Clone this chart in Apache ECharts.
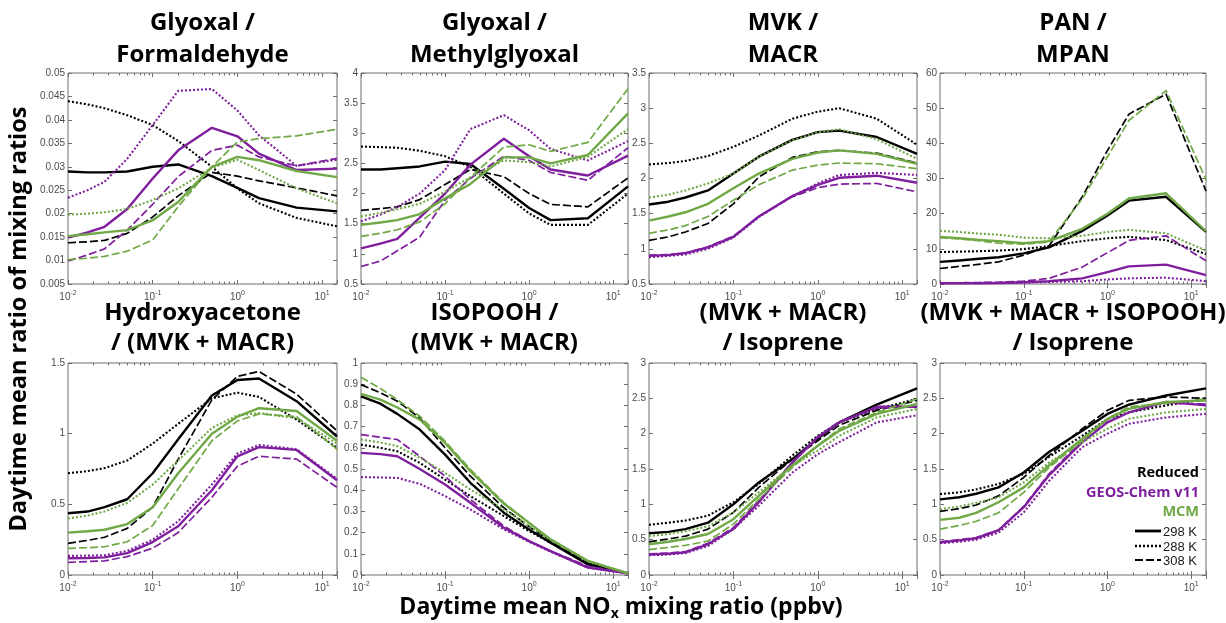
<!DOCTYPE html>
<html>
<head>
<meta charset="utf-8">
<script src="https://cdn.jsdelivr.net/npm/echarts@6/dist/echarts.min.js"></script>
<style>
  html, body { margin: 0; padding: 0; background: #ffffff; }
  #chart { width: 1226px; height: 623px; }
</style>
</head>
<body>
<div id="chart"></div>
<script>
// Daytime mean NOx mixing ratio (ppbv) at which each ratio is sampled
const NOX = [0.01, 0.017, 0.027, 0.05, 0.1, 0.2, 0.5, 1, 1.8, 5, 15];

const MECHANISMS = ['Reduced', 'GEOS-Chem v11', 'MCM'];
const TEMPERATURES = ['298 K', '288 K', '308 K'];

const PANEL_TITLES = [
  ['Glyoxal /', 'Formaldehyde'],
  ['Glyoxal /', 'Methylglyoxal'],
  ['MVK /', 'MACR'],
  ['PAN /', 'MPAN'],
  ['Hydroxyacetone', '/ (MVK + MACR)'],
  ['ISOPOOH /', '(MVK + MACR)'],
  ['(MVK + MACR)', '/ Isoprene'],
  ['(MVK + MACR + ISOPOOH)', '/ Isoprene']
];

// y-axis ranges and tick steps per panel
const Y_MIN = [0.005, 0.5, 0.5, 0, 0, 0, 0, 0];
const Y_MAX = [0.05, 4, 3.5, 60, 1.5, 1, 3, 3];
const Y_STEP = [0.005, 0.5, 0.5, 10, 0.5, 0.1, 0.5, 0.5];

// Each mechanism array holds [298 K, 288 K, 308 K] series over NOX
const glyFormReduced = [
  [0.029, 0.0288, 0.0288, 0.029, 0.030, 0.0305, 0.028, 0.0255, 0.0233, 0.0213, 0.0205],
  [0.044, 0.0433, 0.0425, 0.041, 0.0389, 0.0355, 0.030, 0.0254, 0.0222, 0.0191, 0.0173],
  [0.0138, 0.0140, 0.0143, 0.0158, 0.0193, 0.0238, 0.0288, 0.028, 0.027, 0.0255, 0.0238]
];
const glyFormGeos = [
  [0.0149, 0.016, 0.0172, 0.021, 0.0275, 0.0335, 0.0383, 0.0365, 0.0328, 0.0293, 0.0296],
  [0.0234, 0.025, 0.0268, 0.0317, 0.0389, 0.0462, 0.0466, 0.042, 0.0367, 0.0302, 0.0315],
  [0.0099, 0.0112, 0.0125, 0.0165, 0.022, 0.0279, 0.0335, 0.0346, 0.0321, 0.0302, 0.0318]
];
const glyFormMcm = [
  [0.0152, 0.0156, 0.016, 0.0165, 0.0186, 0.0225, 0.030, 0.0321, 0.0314, 0.0291, 0.0278],
  [0.0198, 0.020, 0.0203, 0.021, 0.0229, 0.0254, 0.0298, 0.0315, 0.0293, 0.0254, 0.0222],
  [0.0102, 0.0105, 0.0109, 0.012, 0.0144, 0.0215, 0.030, 0.0353, 0.036, 0.0366, 0.038]
];

const glyMglyReduced = [
  [2.40, 2.40, 2.42, 2.45, 2.53, 2.49, 2.08, 1.76, 1.56, 1.59, 2.12],
  [2.78, 2.77, 2.76, 2.71, 2.62, 2.44, 2.0, 1.67, 1.48, 1.48, 2.0],
  [1.72, 1.75, 1.78, 1.9, 2.15, 2.40, 2.28, 2.0, 1.82, 1.78, 2.26]
];
const glyMglyGeos = [
  [1.09, 1.17, 1.25, 1.60, 2.0, 2.48, 2.91, 2.62, 2.40, 2.30, 2.63],
  [1.54, 1.65, 1.78, 2.0, 2.39, 3.07, 3.3, 3.05, 2.74, 2.55, 2.87],
  [0.79, 0.88, 1.05, 1.28, 1.89, 2.25, 2.62, 2.55, 2.35, 2.22, 2.76]
];
const glyMglyMcm = [
  [1.48, 1.52, 1.56, 1.66, 1.92, 2.16, 2.6, 2.6, 2.5, 2.64, 3.33],
  [1.62, 1.68, 1.74, 1.83, 2.03, 2.27, 2.55, 2.52, 2.45, 2.61, 3.07],
  [1.29, 1.34, 1.40, 1.53, 1.83, 2.27, 2.77, 2.81, 2.70, 2.85, 3.74]
];

const mvkMacrReduced = [
  [1.63, 1.67, 1.73, 1.83, 2.07, 2.31, 2.55, 2.66, 2.68, 2.59, 2.35],
  [2.20, 2.22, 2.25, 2.32, 2.45, 2.61, 2.85, 2.95, 3.0, 2.85, 2.48],
  [1.12, 1.17, 1.24, 1.36, 1.64, 2.02, 2.30, 2.38, 2.40, 2.36, 2.22]
];
const mvkMacrGeos = [
  [0.90, 0.91, 0.94, 1.02, 1.17, 1.46, 1.75, 1.91, 2.01, 2.04, 1.94],
  [0.88, 0.90, 0.92, 1.00, 1.16, 1.45, 1.75, 1.93, 2.05, 2.08, 2.05],
  [0.91, 0.92, 0.94, 1.03, 1.18, 1.46, 1.74, 1.87, 1.92, 1.93, 1.81]
];
const mvkMacrMcm = [
  [1.40, 1.46, 1.52, 1.64, 1.86, 2.07, 2.28, 2.37, 2.40, 2.35, 2.21],
  [1.73, 1.77, 1.83, 1.93, 2.07, 2.31, 2.54, 2.66, 2.70, 2.56, 2.28],
  [1.22, 1.27, 1.33, 1.46, 1.69, 1.91, 2.12, 2.19, 2.22, 2.21, 2.14]
];

const panMpanReduced = [
  [6.3, 6.7, 7.1, 7.6, 8.7, 10.4, 15.1, 19.5, 23.7, 24.8, 14.8],
  [9.1, 9.2, 9.3, 9.5, 9.9, 10.8, 12.2, 13.0, 13.4, 12.5, 8.5],
  [4.4, 5.0, 5.5, 6.3, 8.2, 10.8, 24.8, 38, 48.3, 54, 26.4]
];
const panMpanGeos = [
  [0.2, 0.2, 0.2, 0.3, 0.5, 0.8, 1.6, 3.4, 5.0, 5.5, 2.5],
  [0.3, 0.3, 0.3, 0.3, 0.4, 0.6, 0.8, 1.3, 1.6, 1.8, 0.8],
  [0.3, 0.35, 0.4, 0.5, 0.8, 1.6, 4.8, 8.9, 12.4, 13.7, 6.6]
];
const panMpanMcm = [
  [13.4, 13.0, 12.6, 12.2, 11.6, 12.2, 15.7, 20, 24.3, 25.8, 15.0],
  [15.1, 14.8, 14.4, 14.0, 13.2, 13.0, 13.7, 14.8, 15.4, 14.4, 9.5],
  [13.2, 12.8, 12.4, 11.6, 11.3, 12.0, 24.2, 36.2, 46.5, 55, 29.7]
];

const hacMvkReduced = [
  [0.437, 0.449, 0.48, 0.536, 0.72, 0.96, 1.27, 1.38, 1.39, 1.23, 0.98],
  [0.72, 0.735, 0.756, 0.81, 0.93, 1.07, 1.25, 1.29, 1.26, 1.10, 0.90],
  [0.224, 0.245, 0.267, 0.33, 0.48, 0.82, 1.24, 1.405, 1.44, 1.28, 1.02]
];
const hacMvkGeos = [
  [0.118, 0.12, 0.125, 0.155, 0.233, 0.345, 0.60, 0.84, 0.905, 0.885, 0.67],
  [0.135, 0.137, 0.14, 0.17, 0.25, 0.38, 0.64, 0.86, 0.92, 0.89, 0.68],
  [0.09, 0.095, 0.10, 0.13, 0.19, 0.30, 0.55, 0.77, 0.84, 0.82, 0.62]
];
const hacMvkMcm = [
  [0.30, 0.31, 0.32, 0.36, 0.48, 0.72, 1.0, 1.12, 1.18, 1.16, 0.95],
  [0.40, 0.42, 0.45, 0.51, 0.64, 0.81, 1.04, 1.13, 1.145, 1.11, 0.93],
  [0.189, 0.193, 0.20, 0.235, 0.35, 0.61, 0.95, 1.09, 1.14, 1.12, 0.89]
];

const isoMvkReduced = [
  [0.843, 0.808, 0.76, 0.686, 0.568, 0.435, 0.294, 0.215, 0.152, 0.05, 0.008],
  [0.615, 0.60, 0.584, 0.529, 0.45, 0.372, 0.278, 0.207, 0.152, 0.058, 0.008],
  [0.898, 0.86, 0.82, 0.741, 0.60, 0.466, 0.317, 0.228, 0.16, 0.055, 0.008]
];
const isoMvkGeos = [
  [0.576, 0.57, 0.56, 0.50, 0.427, 0.341, 0.223, 0.16, 0.113, 0.035, 0.008],
  [0.462, 0.46, 0.458, 0.43, 0.372, 0.309, 0.215, 0.157, 0.11, 0.035, 0.008],
  [0.662, 0.65, 0.639, 0.56, 0.466, 0.356, 0.231, 0.16, 0.113, 0.042, 0.008]
];
const isoMvkMcm = [
  [0.854, 0.827, 0.79, 0.733, 0.623, 0.49, 0.337, 0.246, 0.168, 0.066, 0.008],
  [0.639, 0.625, 0.608, 0.553, 0.482, 0.403, 0.309, 0.231, 0.165, 0.066, 0.008],
  [0.933, 0.88, 0.827, 0.749, 0.631, 0.498, 0.341, 0.246, 0.168, 0.066, 0.008]
];

const mvkIspReduced = [
  [0.59, 0.61, 0.65, 0.74, 1.0, 1.31, 1.64, 1.93, 2.16, 2.41, 2.64],
  [0.71, 0.74, 0.77, 0.84, 1.03, 1.29, 1.69, 1.97, 2.16, 2.35, 2.49],
  [0.47, 0.51, 0.55, 0.65, 0.885, 1.24, 1.64, 1.90, 2.12, 2.33, 2.47]
];
const mvkIspGeos = [
  [0.29, 0.30, 0.32, 0.435, 0.65, 1.03, 1.59, 1.95, 2.16, 2.38, 2.38],
  [0.28, 0.29, 0.31, 0.41, 0.65, 0.98, 1.45, 1.71, 1.88, 2.16, 2.26],
  [0.30, 0.31, 0.33, 0.45, 0.67, 1.05, 1.60, 1.96, 2.17, 2.36, 2.38]
];
const mvkIspMcm = [
  [0.435, 0.47, 0.51, 0.58, 0.79, 1.12, 1.55, 1.83, 2.04, 2.28, 2.42],
  [0.55, 0.58, 0.62, 0.69, 0.885, 1.17, 1.55, 1.76, 1.97, 2.23, 2.35],
  [0.36, 0.39, 0.42, 0.48, 0.72, 1.07, 1.52, 1.83, 2.07, 2.30, 2.49]
];

const mvkIsoohIspReduced = [
  [1.07, 1.10, 1.15, 1.24, 1.45, 1.74, 2.04, 2.28, 2.41, 2.54, 2.64],
  [1.145, 1.17, 1.21, 1.29, 1.43, 1.67, 1.97, 2.21, 2.30, 2.40, 2.49],
  [0.90, 0.94, 0.99, 1.12, 1.38, 1.69, 2.07, 2.33, 2.47, 2.52, 2.50]
];
const mvkIsoohIspGeos = [
  [0.46, 0.49, 0.52, 0.63, 0.96, 1.41, 1.88, 2.16, 2.30, 2.45, 2.40],
  [0.45, 0.47, 0.50, 0.60, 0.885, 1.33, 1.81, 2.0, 2.14, 2.23, 2.28],
  [0.47, 0.50, 0.53, 0.64, 0.97, 1.43, 1.90, 2.20, 2.36, 2.43, 2.42]
];
const mvkIsoohIspMcm = [
  [0.78, 0.81, 0.88, 1.03, 1.24, 1.55, 1.93, 2.21, 2.35, 2.45, 2.47],
  [0.93, 0.97, 1.02, 1.10, 1.31, 1.59, 1.88, 2.07, 2.21, 2.30, 2.35],
  [0.65, 0.70, 0.76, 0.88, 1.17, 1.52, 1.90, 2.21, 2.38, 2.43, 2.49]
];

const PANEL_DATA = [
  [glyFormReduced, glyFormGeos, glyFormMcm],
  [glyMglyReduced, glyMglyGeos, glyMglyMcm],
  [mvkMacrReduced, mvkMacrGeos, mvkMacrMcm],
  [panMpanReduced, panMpanGeos, panMpanMcm],
  [hacMvkReduced, hacMvkGeos, hacMvkMcm],
  [isoMvkReduced, isoMvkGeos, isoMvkMcm],
  [mvkIspReduced, mvkIspGeos, mvkIspMcm],
  [mvkIsoohIspReduced, mvkIsoohIspGeos, mvkIsoohIspMcm]
];

// ---- styling and layout ----
const MECH_COLORS = ['#000000', '#7f1f9d', '#6fa845'];
const TEMP_WIDTHS = [2.4, 2.1, 1.7];
const TEMP_DASH = ['solid', [2, 2], [8, 3]];
const AXIS_COLOR = '#6e6e6e';
const TICK_TEXT = '#4a4a4a';
const TITLE_FONT = '"Open Sans", "Noto Sans", sans-serif';
const TICK_FONT = '"Liberation Sans", Arial, sans-serif';

const COL_LEFT = [68, 361, 649, 940];
const COL_WIDTH = [269, 267, 268, 266];
const ROW_TOP = [73, 363];
const ROW_HEIGHT = [211, 212];
const X_MIN = 0.01, X_MAX = 15;

const minorTicks = [];
[0.01, 0.1, 1].forEach(d => { for (let k = 2; k <= 9; k++) minorTicks.push(+(d * k).toPrecision(3)); });

function logLabel(v) {
  const e = Math.round(Math.log10(v));
  if (Math.abs(v - Math.pow(10, e)) / v > 1e-6) return '';
  return '{b|10}{s|' + e + '}';
}
function yLabel(v) { return String(+v.toPrecision(6)); }

const grids = [], xAxes = [], yAxes = [], series = [], graphics = [];

for (let i = 0; i < 8; i++) {
  const row = Math.floor(i / 4), col = i % 4;
  grids.push({
    left: COL_LEFT[col], top: ROW_TOP[row], width: COL_WIDTH[col], height: ROW_HEIGHT[row],
    show: true, borderColor: AXIS_COLOR, borderWidth: 1, backgroundColor: '#ffffff'
  });
  const xCommon = {
    type: 'log', logBase: 10, min: X_MIN, max: X_MAX, gridIndex: i,
    axisLine: { show: false }, splitLine: { show: false },
    axisTick: { inside: true, length: 4, lineStyle: { color: AXIS_COLOR } }
  };
  xAxes.push(Object.assign({}, xCommon, {
    position: 'bottom',
    axisLabel: {
      formatter: logLabel, margin: 6, showMinLabel: true, showMaxLabel: true,
      rich: {
        b: { fontSize: 10, color: TICK_TEXT, fontFamily: TICK_FONT },
        s: { fontSize: 7, color: TICK_TEXT, fontFamily: TICK_FONT, padding: [0, 0, 7, 0] }
      }
    }
  }));
  xAxes.push(Object.assign({}, xCommon, { position: 'top', axisLabel: { show: false } }));
  const yCommon = {
    type: 'value', min: Y_MIN[i], max: Y_MAX[i], interval: Y_STEP[i], gridIndex: i,
    axisLine: { show: false }, splitLine: { show: false },
    axisTick: { inside: true, length: 4, lineStyle: { color: AXIS_COLOR } }
  };
  yAxes.push(Object.assign({}, yCommon, {
    position: 'left',
    axisLabel: { formatter: yLabel, fontSize: 10, color: TICK_TEXT, fontFamily: TICK_FONT, margin: 3 }
  }));
  yAxes.push(Object.assign({}, yCommon, { position: 'right', axisLabel: { show: false } }));

  // log minor ticks on bottom and top edges
  series.push({
    type: 'custom', xAxisIndex: 2 * i, yAxisIndex: 2 * i, silent: true, z: 1,
    data: minorTicks.map(v => [v, Y_MIN[i]]),
    renderItem: (params, api) => {
      const cs = params.coordSys;
      const x = Math.round(api.coord([api.value(0), api.value(1)])[0]) + 0.5;
      const b = cs.y + cs.height, t = cs.y;
      return {
        type: 'group', children: [
          { type: 'line', shape: { x1: x, y1: b, x2: x, y2: b - 2.5 }, style: { stroke: AXIS_COLOR, lineWidth: 1 } },
          { type: 'line', shape: { x1: x, y1: t, x2: x, y2: t + 2.5 }, style: { stroke: AXIS_COLOR, lineWidth: 1 } }
        ]
      };
    }
  });

  PANEL_DATA[i].forEach((mech, m) => {
    mech.forEach((vals, t) => {
      series.push({
        name: MECHANISMS[m] + ' ' + TEMPERATURES[t],
        type: 'line', xAxisIndex: 2 * i, yAxisIndex: 2 * i,
        data: NOX.map((x, k) => [x, vals[k]]),
        symbol: 'none', silent: true, animation: false, z: 3,
        lineStyle: { color: MECH_COLORS[m], width: TEMP_WIDTHS[t], type: TEMP_DASH[t], cap: 'butt', join: 'round' }
      });
    });
  });

  // panel title (two lines)
  const cx = COL_LEFT[col] + COL_WIDTH[col] / 2;
  const ty = row === 0 ? [23, 55] : [313, 343];
  PANEL_TITLES[i].forEach((line, k) => {
    graphics.push({
      type: 'text', x: cx, y: ty[k], silent: true,
      style: { text: line, fontSize: 24, fontWeight: 'bold', fontFamily: TITLE_FONT, fill: '#000', align: 'center', verticalAlign: 'middle' }
    });
  });
}

// shared axis titles
graphics.push({
  type: 'text', x: 19, y: 319, rotation: Math.PI / 2, silent: true,
  style: {
    text: 'Daytime mean ratio of mixing ratios', fontSize: 23.5, fontWeight: 'bold',
    fontFamily: TITLE_FONT, fill: '#000', align: 'center', verticalAlign: 'middle'
  }
});
graphics.push({
  type: 'text', x: 621, y: 607, silent: true,
  style: {
    text: '{t|Daytime mean NO}{s|x}{t| mixing ratio (ppbv)}',
    align: 'center', verticalAlign: 'middle',
    rich: {
      t: { fontSize: 23, fontWeight: 'bold', fontFamily: TITLE_FONT, fill: '#000' },
      s: { fontSize: 14, fontWeight: 'bold', fontFamily: TITLE_FONT, fill: '#000', padding: [14, 0, 0, 0] }
    }
  }
});

// legend inside the last panel
const LEGEND_RIGHT = 1199;
const legendMechY = [473, 493, 512];
MECHANISMS.forEach((name, m) => {
  graphics.push({
    type: 'text', x: LEGEND_RIGHT, y: legendMechY[m], silent: true,
    style: { text: name, fontSize: 14.5, fontWeight: 'bold', fontFamily: TITLE_FONT, fill: MECH_COLORS[m], align: 'right', verticalAlign: 'middle' }
  });
});
const legendTempY = [531, 546, 560];
TEMPERATURES.forEach((name, t) => {
  graphics.push({
    type: 'line', silent: true,
    shape: { x1: 1135, y1: legendTempY[t], x2: 1161, y2: legendTempY[t] },
    style: { stroke: '#000', lineWidth: TEMP_WIDTHS[t] + 0.4, lineDash: t === 0 ? null : TEMP_DASH[t], lineCap: 'butt' }
  });
  graphics.push({
    type: 'text', x: 1163, y: legendTempY[t] + 1, silent: true,
    style: { text: name, fontSize: 13, fontFamily: TICK_FONT, fill: '#1a1a1a', align: 'left', verticalAlign: 'middle' }
  });
});

const chart = echarts.init(document.getElementById('chart'), null, { renderer: 'canvas' });
chart.setOption({
  animation: false,
  backgroundColor: '#ffffff',
  grid: grids,
  xAxis: xAxes,
  yAxis: yAxes,
  series: series,
  graphic: graphics
});
</script>
</body>
</html>
